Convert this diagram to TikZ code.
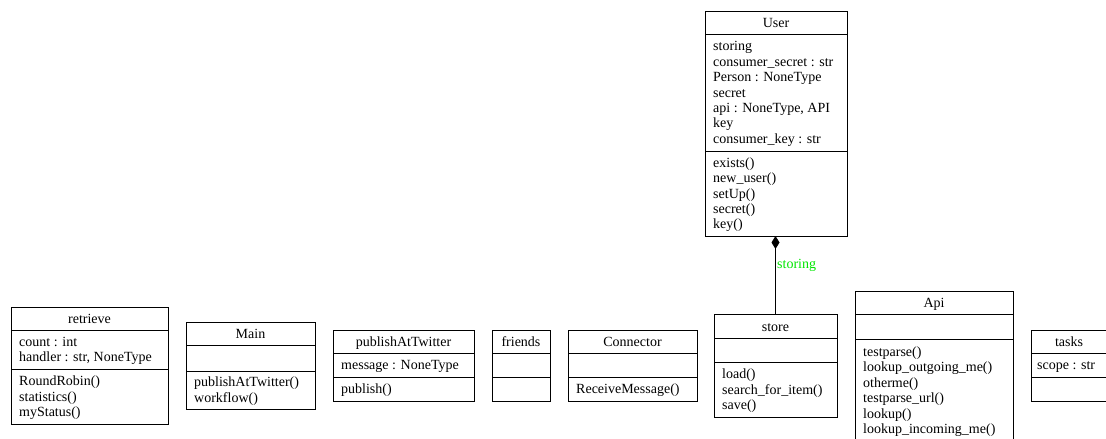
\documentclass[tikz,border=0pt]{standalone}
\usepackage{fontspec}
\setmainfont{Liberation Serif}
\usetikzlibrary{arrows.meta,calc}

\newcommand\umlfont{\fontsize{14}{15.4}\selectfont}
\definecolor{rolegreen}{RGB}{0,230,0}

\tikzset{
  x=1pt, y=-1pt,
  classbox/.style={draw, line width=0.9pt, inner sep=0pt, outer sep=0pt, anchor=north west},
  divider/.style={line width=0.9pt},
  classtitle/.style={inner sep=0pt, anchor=base, font=\umlfont},
  members/.style={inner sep=0pt, anchor=west, align=left, font=\umlfont},
  rolelabel/.style={inner sep=0pt, anchor=west, font=\umlfont, text=rolegreen},
  composition/.style={line width=0.9pt, -{Diamond[width=8pt,length=13pt]}},
}

% #1 name, #2 left, #3 top, #4 right, #5 first divider, #6 second divider, #7 bottom, #8 title
\newcommand\umlclass[8]{%
  \node[classbox, minimum width={#4-#2}, minimum height={#7-#3}] (#1) at (#2,#3) {};
  \draw[divider] (#2,#5) -- (#4,#5);
  \draw[divider] (#2,#6) -- (#4,#6);
  \node[classtitle] (#1-title) at ({(#2+#4)/2},{(#3+#5)/2+5}) {#8};
  \coordinate (#1-a) at ({#2+8},{(#5+#6)/2+1.5});
  \coordinate (#1-o) at ({#2+8},{(#6+#7)/2+1.5});
}

\begin{document}
\begin{tikzpicture}
\useasboundingbox (0,0) rectangle (1106,439);
\clip (0,0) rectangle (1106,439);

\umlclass{user}{705}{11}{847}{34}{151}{236}{User}
\node[members] (user-attrs) at (user-a) {\strut storing\\\strut consumer\_secret : str\\\strut Person : NoneType\\\strut secret\\\strut api : NoneType, API\\\strut key\\\strut consumer\_key : str};
\node[members] (user-ops) at (user-o) {\strut exists()\\\strut new\_user()\\\strut setUp()\\\strut secret()\\\strut key()};

\umlclass{retrieve}{11}{307}{168}{330}{369}{424}{retrieve}
\node[members] (retrieve-attrs) at (retrieve-a) {\strut count : int\\\strut handler : str, NoneType};
\node[members] (retrieve-ops) at (retrieve-o) {\strut RoundRobin()\\\strut statistics()\\\strut myStatus()};

\umlclass{main}{186}{322}{315}{345}{371}{409}{Main}
\node[members] (main-ops) at (main-o) {\strut publishAtTwitter()\\\strut workflow()};

\umlclass{publish}{333}{330}{474}{353}{377}{401}{publishAtTwitter}
\node[members] (publish-attrs) at (publish-a) {\strut message : NoneType};
\node[members] (publish-ops) at (publish-o) {\strut publish()};

\umlclass{friends}{492}{330}{550}{353}{377}{401}{friends}

\umlclass{connector}{568}{330}{697}{353}{377}{401}{Connector}
\node[members] (connector-ops) at (connector-o) {\strut ReceiveMessage()};

\umlclass{store}{714}{314}{837}{338}{362}{417}{store}
\node[members] (store-ops) at (store-o) {\strut load()\\\strut search\_for\_item()\\\strut save()};

\umlclass{api}{855}{291}{1013}{314}{339}{444}{Api}
\node[members] (api-ops) at ({863},{392}) {\strut testparse()\\\strut lookup\_outgoing\_me()\\\strut otherme()\\\strut testparse\_url()\\\strut lookup()\\\strut lookup\_incoming\_me()};

\umlclass{tasks}{1031}{330}{1107}{353}{377}{401}{tasks}
\node[members] (tasks-attrs) at ({1037},{366.5}) {\strut scope : str};

% composition: User owns store through the role "storing"
\draw[composition] (store.north) -- (store.north |- user.south);
\node[rolelabel] (storing-role) at (777,265) {storing};
\end{tikzpicture}
\end{document}
